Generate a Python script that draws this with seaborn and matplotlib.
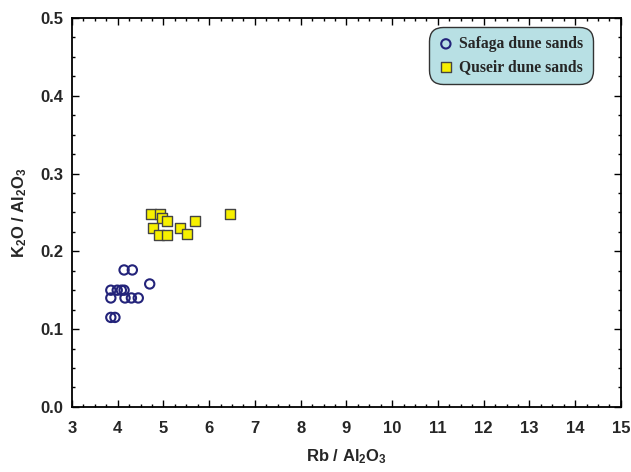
import pandas as pd
import matplotlib.pyplot as plt
import seaborn as sns
from matplotlib.ticker import MultipleLocator

# Safaga dune sands
safaga_x = [4.14, 4.32, 4.70, 3.85, 3.99, 4.08, 4.14, 3.85, 4.16, 4.30, 4.45, 3.85, 3.94]
safaga_y = [0.176, 0.176, 0.158, 0.150, 0.150, 0.150, 0.150, 0.140, 0.140, 0.140, 0.140, 0.115, 0.115]

# Quseir dune sands
quseir_x = [4.72, 4.92, 4.97, 5.08, 4.77, 4.91, 5.07, 5.37, 5.52, 5.68, 6.45]
quseir_y = [0.248, 0.248, 0.243, 0.239, 0.230, 0.221, 0.221, 0.230, 0.222, 0.239, 0.248]

groups = ['Safaga dune sands', 'Quseir dune sands']

df = pd.DataFrame({
    'rb': safaga_x + quseir_x,
    'k2o': safaga_y + quseir_y,
    'group': [groups[0]] * len(safaga_x) + [groups[1]] * len(quseir_x),
})

sns.set_style('ticks')
plt.rcParams['font.family'] = ['Liberation Sans', 'DejaVu Sans']
plt.rcParams['mathtext.fontset'] = 'custom'
plt.rcParams['mathtext.rm'] = 'Liberation Sans:bold'
plt.rcParams['mathtext.it'] = 'Liberation Sans:bold'
plt.rcParams['mathtext.bf'] = 'Liberation Sans:bold'

fig = plt.figure(figsize=(6.31, 4.72), dpi=100)
ax = fig.add_axes([0.114, 0.138, 0.870, 0.824])

# circles: open navy, squares: yellow with dark edge
sns.scatterplot(data=df[df['group'] == groups[0]], x='rb', y='k2o', ax=ax,
                marker='o', s=45, facecolor='none', edgecolor='#23237a',
                linewidth=1.5, label=groups[0], zorder=3)
sns.scatterplot(data=df[df['group'] == groups[1]], x='rb', y='k2o', ax=ax,
                marker='s', s=58, color='#f7f000', edgecolor='#444444',
                linewidth=1.0, label=groups[1], zorder=3)

ax.set_xlim(3, 15)
ax.set_ylim(0, 0.5)
ax.xaxis.set_major_locator(MultipleLocator(1))
ax.xaxis.set_minor_locator(MultipleLocator(0.25))
ax.yaxis.set_major_locator(MultipleLocator(0.1))
ax.yaxis.set_minor_locator(MultipleLocator(0.025))
ax.yaxis.set_major_formatter(plt.FormatStrFormatter('%.1f'))
ax.tick_params(which='both', direction='in', top=True, right=True, width=1.0, color='black')
ax.tick_params(which='major', length=5, labelsize=12)
ax.tick_params(axis='x', which='major', pad=10)
ax.tick_params(axis='y', which='major', pad=6)
ax.tick_params(which='minor', length=2.5)
for lab in ax.get_xticklabels() + ax.get_yticklabels():
    lab.set_fontweight('bold')
for sp in ax.spines.values():
    sp.set_linewidth(1.3)
    sp.set_color('black')

ax.set_xlabel(r'Rb / Al$_2$O$_3$', fontsize=12, fontweight='bold', labelpad=8)
ax.set_ylabel(r'K$_2$O / Al$_2$O$_3$', fontsize=12, fontweight='bold', labelpad=8)

leg = ax.legend(loc='upper right', bbox_to_anchor=(0.963, 0.998), fancybox=True,
                frameon=True, handletextpad=0.35, borderpad=0.6, labelspacing=0.45,
                handlelength=1.0, prop={'family': 'Liberation Serif', 'weight': 'bold', 'size': 11.3})
frame = leg.get_frame()
frame.set_facecolor('#b8e0e4')
frame.set_edgecolor('#333333')
frame.set_alpha(1)
frame.set_linewidth(1.0)
frame.set_boxstyle('round', pad=0, rounding_size=0.9)

plt.savefig('out.png', dpi=100)
